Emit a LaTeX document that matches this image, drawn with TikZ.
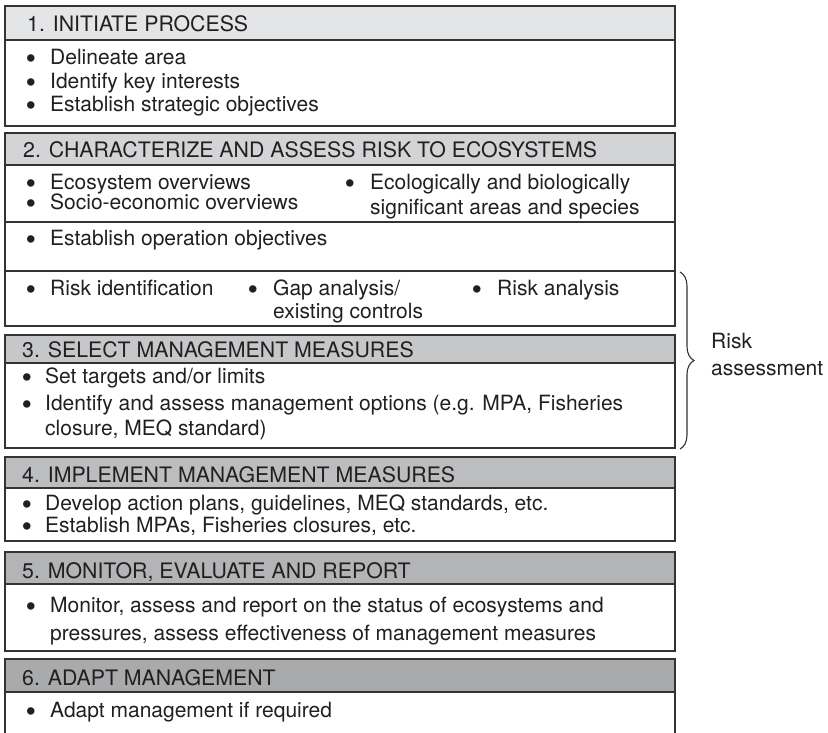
\documentclass[tikz,border=0pt]{standalone}
\usepackage{fontspec}
\usepackage{graphicx}
\setmainfont{TeX Gyre Heros}
\newfontfamily\bulfont{Liberation Sans}
\usetikzlibrary{decorations.pathreplacing}
\definecolor{hA}{HTML}{E4E5E7}
\definecolor{hB}{HTML}{D3D4D6}
\definecolor{hC}{HTML}{C6C7C9}
\definecolor{hD}{HTML}{BCBDBF}
\definecolor{hE}{HTML}{B3B4B6}
\definecolor{hF}{HTML}{A9AAAC}
\definecolor{edge}{HTML}{333333}
\definecolor{ink}{HTML}{231F20}
\newcommand{\bigbul}{\raisebox{-3.5pt}{\scalebox{1.3}{•}}}
\begin{document}
\begin{tikzpicture}[x=1pt,y=-1pt,
  frame/.style={draw=edge, line width=1.1pt},
  txt/.style={anchor=base west, inner sep=0pt, font=\fontsize{21}{24}\selectfont, text=ink},
  bul/.style={anchor=base, inner sep=0pt, font=\bulfont\fontsize{21}{24}\selectfont, text=ink},
  hdr/.style={anchor=base west, inner sep=0pt, font=\fontsize{21.3}{24}\selectfont, text=ink},
  bracestyle/.style={draw=edge, line width=1.1pt, decorate, decoration={brace, amplitude=14pt}}
]
\useasboundingbox (0,0) rectangle (828,732);
\fill[white] (0,0) rectangle (828,732);

% ---------- Box 1
\draw[frame, fill=hA] (5,6) rectangle (675,40);
\draw[frame] (5,40) rectangle (675,126);
\node[hdr] (h1) at (27,31) {1. INITIATE PROCESS};
\node[bul] (b1a) at (31,64) {\bigbul};
\node[txt] (t1a) at (50,64) {Delineate area};
\node[bul] (b1b) at (31,88) {\bigbul};
\node[txt] (t1b) at (50,88) {Identify key interests};
\node[bul] (b1c) at (31,111) {\bigbul};
\node[txt] (t1c) at (50,111) {Establish strategic objectives};

% ---------- Box 2
\draw[frame, fill=hB] (5,133) rectangle (675,165);
\draw[frame] (5,165) rectangle (675,326);
\draw[frame] (5,222) -- (675,222);
\draw[frame] (5,271) -- (675,271);
\node[hdr] (h2) at (23,157) {2. CHARACTERIZE AND ASSESS RISK TO ECOSYSTEMS};
\node[bul] (b2a) at (31,189) {\bigbul};
\node[txt] (t2a) at (50,189) {Ecosystem overviews};
\node[bul] (b2b) at (31,209) {\bigbul};
\node[txt] (t2b) at (50,209) {Socio-economic overviews};
\node[bul] (b2c) at (350,189) {\bigbul};
\node[txt] (t2c) at (370,189) {Ecologically and biologically};
\node[txt] (t2d) at (370,214) {significant areas and species};
\node[bul] (b2e) at (31,245) {\bigbul};
\node[txt] (t2e) at (50,245) {Establish operation objectives};
\node[bul] (b2f) at (31,295) {\bigbul};
\node[txt] (t2f) at (50,295) {Risk identification};
\node[bul] (b2g) at (253,295) {\bigbul};
\node[txt] (t2g) at (273,295) {Gap analysis/};
\node[txt] (t2h) at (273,318) {existing controls};
\node[bul] (b2i) at (477,295) {\bigbul};
\node[txt] (t2i) at (497,295) {Risk analysis};

% ---------- Box 3
\draw[frame, fill=hC] (5,335) rectangle (675,363);
\draw[frame] (5,363) rectangle (675,448);
\node[hdr] (h3) at (22,357) {3. SELECT MANAGEMENT MEASURES};
\node[bul] (b3a) at (27,383) {\bigbul};
\node[txt] (t3a) at (45,383) {Set targets and/or limits};
\node[bul] (b3b) at (27,410) {\bigbul};
\node[txt] (t3b) at (45,410) {Identify and assess management options (e.g. MPA, Fisheries};
\node[txt] (t3c) at (45,435) {closure, MEQ standard)};

% ---------- Box 4
\draw[frame, fill=hD] (5,457) rectangle (675,488);
\draw[frame] (5,488) rectangle (675,541);
\node[hdr] (h4) at (22,482) {4. IMPLEMENT MANAGEMENT MEASURES};
\node[bul] (b4a) at (27,510) {\bigbul};
\node[txt] (t4a) at (45,510) {Develop action plans, guidelines, MEQ standards, etc.};
\node[bul] (b4b) at (27,532) {\bigbul};
\node[txt] (t4b) at (45,532) {Establish MPAs, Fisheries closures, etc.};

% ---------- Box 5
\draw[frame, fill=hE] (5,552) rectangle (675,584);
\draw[frame] (5,584) rectangle (675,651);
\node[hdr] (h5) at (22,578) {5. MONITOR, EVALUATE AND REPORT};
\node[bul] (b5a) at (31,612) {\bigbul};
\node[txt] (t5a) at (50,612) {Monitor, assess and report on the status of ecosystems and};
\node[txt] (t5b) at (50,640) {pressures, assess effectiveness of management measures};

% ---------- Box 6
\draw[frame, fill=hF] (5,659) rectangle (675,692);
\draw[frame] (5,692) -- (5,734);
\draw[frame] (675,692) -- (675,734);
\node[hdr] (h6) at (22,685) {6. ADAPT MANAGEMENT};
\node[bul] (b6a) at (31,717) {\bigbul};
\node[txt] (t6a) at (50,717) {Adapt management if required};

% ---------- Brace
\coordinate (brtop) at (680,272);
\coordinate (brbot) at (680,449);
\draw[bracestyle] (brtop) -- (brbot);
\node[txt] (ra1) at (711,348) {Risk};
\node[txt] (ra2) at (711,375) {assessment};
\end{tikzpicture}
\end{document}
